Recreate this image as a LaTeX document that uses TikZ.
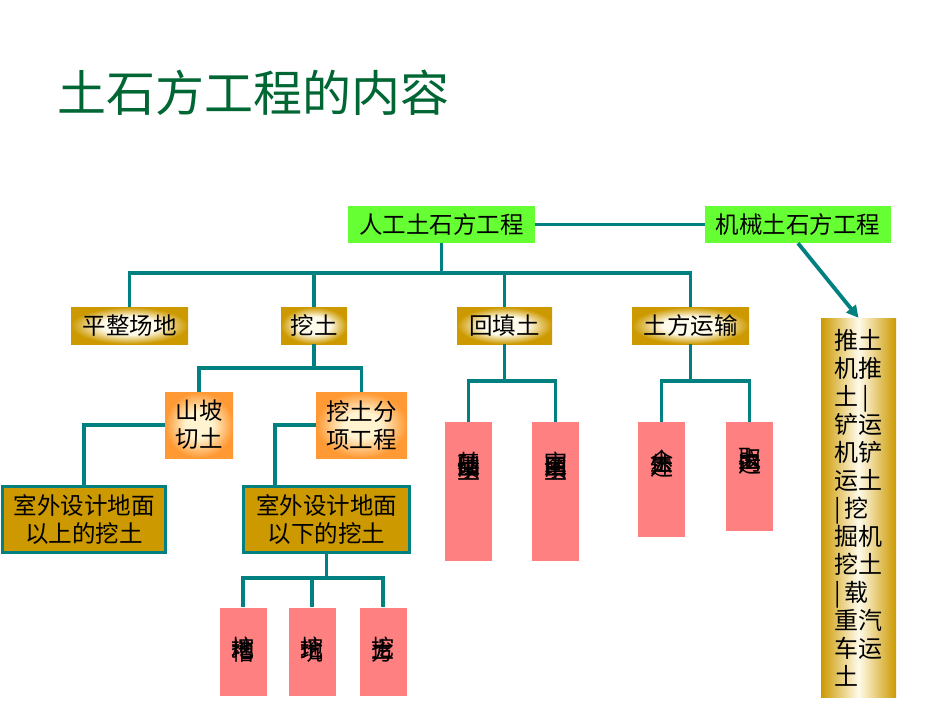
\documentclass[tikz,border=0pt]{standalone}
\usepackage{fontspec}
\setmainfont{Noto Sans CJK SC}
\usetikzlibrary{arrows.meta,calc}
\definecolor{lteal}{HTML}{008080}
\definecolor{lgreen}{HTML}{66FF33}
\definecolor{gdark}{HTML}{CC9900}
\definecolor{glight}{HTML}{FFFBEA}
\definecolor{odark}{HTML}{FF9933}
\definecolor{olight}{HTML}{FFF3D0}
\definecolor{lpink}{HTML}{FF8080}
\definecolor{titlegreen}{HTML}{006633}
\pgfdeclareradialshading{bevelgold}{\pgfpoint{0bp}{0bp}}{color(0bp)=(glight); color(12bp)=(glight); color(25bp)=(gdark); color(50bp)=(gdark)}
\pgfdeclareradialshading{bevelorange}{\pgfpoint{0bp}{0bp}}{color(0bp)=(olight); color(10bp)=(olight); color(25bp)=(odark); color(50bp)=(odark)}
\begin{document}
\begin{tikzpicture}[x=1pt,y=-1pt,
  conn/.style={draw=lteal, line width=3.8pt},
  box/.style={inner sep=0pt, font=\fontsize{23.5}{28}\selectfont, align=center},
  greenbox/.style={box, fill=lgreen, minimum height=37pt},
  goldbox/.style={box, shade, shading=bevelgold, minimum height=37pt},
  orangebox/.style={box, shade, shading=bevelorange, minimum height=66pt},
  darkbox/.style={box, fill=gdark, draw=lteal, line width=3pt, minimum height=66pt},
  pinkbox/.style={inner sep=0pt, fill=lpink, minimum width=47pt},
  pinktext/.style={inner sep=0pt, align=center, font={\fontsize{23}{2}\selectfont\lineskiplimit=-100pt\lineskip=0pt}},
  tallbox/.style={box, left color=gdark, right color=gdark, middle color=glight, align=left, font=\fontsize{24}{28}\selectfont, minimum width=75pt, minimum height=379pt},
]
\useasboundingbox[fill=white] (0,0) rectangle (950,713);

\node[font=\fontsize{49}{55}\selectfont, text=titlegreen, anchor=west, inner sep=0pt] (title) at (57,93) {土石方工程的内容};

% top level
\node[greenbox, minimum width=187pt] (rg) at (441.5,224.5) {人工土石方工程};
\node[greenbox, minimum width=186pt] (jx) at (798,224.5) {机械土石方工程};

% second level
\node[goldbox, minimum width=117pt] (pz) at (129.5,325.5) {平整场地};
\node[goldbox, minimum width=66pt] (wt) at (314,325.5) {挖土};
\node[goldbox, minimum width=95pt] (ht) at (504.5,325.5) {回填土};
\node[goldbox, minimum width=117pt] (ty) at (690.5,325.5) {土方运输};

% third level
\node[orangebox, minimum width=68pt] (sp) at (199,425) {山坡\\切土};
\node[orangebox, minimum width=91pt] (fx) at (361.5,425) {挖土分\\项工程};
\node[darkbox, minimum width=163pt] (ys) at (84,519.5) {室外设计地面\\以上的挖土};
\node[darkbox, minimum width=166pt] (yx) at (326.5,519.5) {室外设计地面\\以下的挖土};

% pink boxes
\node[pinkbox, minimum height=88pt] (p1) at (243,651.5) {};
\node[pinkbox, minimum height=88pt] (p2) at (312,651.5) {};
\node[pinkbox, minimum height=88pt] (p3) at (383,651.5) {};
\node[pinktext] (p1t) at (243,650) {挖\\地\\槽};
\node[pinktext] (p2t) at (312,650) {挖\\地\\坑};
\node[pinktext] (p3t) at (383,650) {挖\\土\\方};

\node[pinkbox, minimum height=139pt] (h1) at (468.5,491.5) {};
\node[pinkbox, minimum height=139pt] (h2) at (555.5,491.5) {};
\node[pinktext] (h1t) at (468.5,466) {基\\础\\回\\填\\土};
\node[pinktext] (h2t) at (555.5,466) {室\\内\\回\\填\\土};

\node[pinkbox, minimum height=115pt] (y1) at (661.5,479.5) {};
\node[pinkbox, minimum height=109pt] (y2) at (749.5,476.5) {};
\node[pinktext] (y1t) at (661.5,464) {余\\土\\外\\运};
\node[pinktext] (y2t) at (749.5,461) {取\\土\\内\\运};

% machine box
\node[tallbox] (tl) at (858.5,507.5) {推土\\机推\\土\,|\\铲运\\机铲\\运土\\|\,挖\\掘机\\挖土\\|\,载\\重汽\\车运\\土};

% buses
\coordinate (bus1) at (0,273);
\coordinate (bus2) at (0,368);
\coordinate (bus3) at (0,381);
\coordinate (bus4) at (0,578);

% connectors
\draw[conn] (rg.east) -- (jx.west);
\draw[conn] (rg.south) -- (rg.south |- bus1);
\draw[conn] (pz.north) -- (pz.north |- bus1) -- (ty.north |- bus1) -- (ty.north);
\draw[conn] (wt.north) -- (wt.north |- bus1);
\draw[conn] (ht.north) -- (ht.north |- bus1);

\draw[conn] (wt.south) -- (wt.south |- bus2);
\draw[conn] (sp.north) -- (sp.north |- bus2) -- (fx.north |- bus2) -- (fx.north);
\draw[conn] (sp.west) -| (ys.north);
\draw[conn] (fx.west) -| ([xshift=-51.5pt]yx.north);

\draw[conn] (yx.south) -- (yx.south |- bus4);
\draw[conn] (p1.north) -- (p1.north |- bus4) -- (p3.north |- bus4) -- (p3.north);
\draw[conn] (p2.north) -- (p2.north |- bus4);

\draw[conn] (ht.south) -- (ht.south |- bus3);
\draw[conn] (h1.north) -- (h1.north |- bus3) -- (h2.north |- bus3) -- (h2.north);

\draw[conn] (ty.south) -- (ty.south |- bus3);
\draw[conn] (y1.north) -- (y1.north |- bus3) -- (y2.north |- bus3) -- (y2.north);

\draw[conn, -{Triangle[length=12pt,width=12pt]}] (jx.south) -- (tl.north);
\end{tikzpicture}
\end{document}
